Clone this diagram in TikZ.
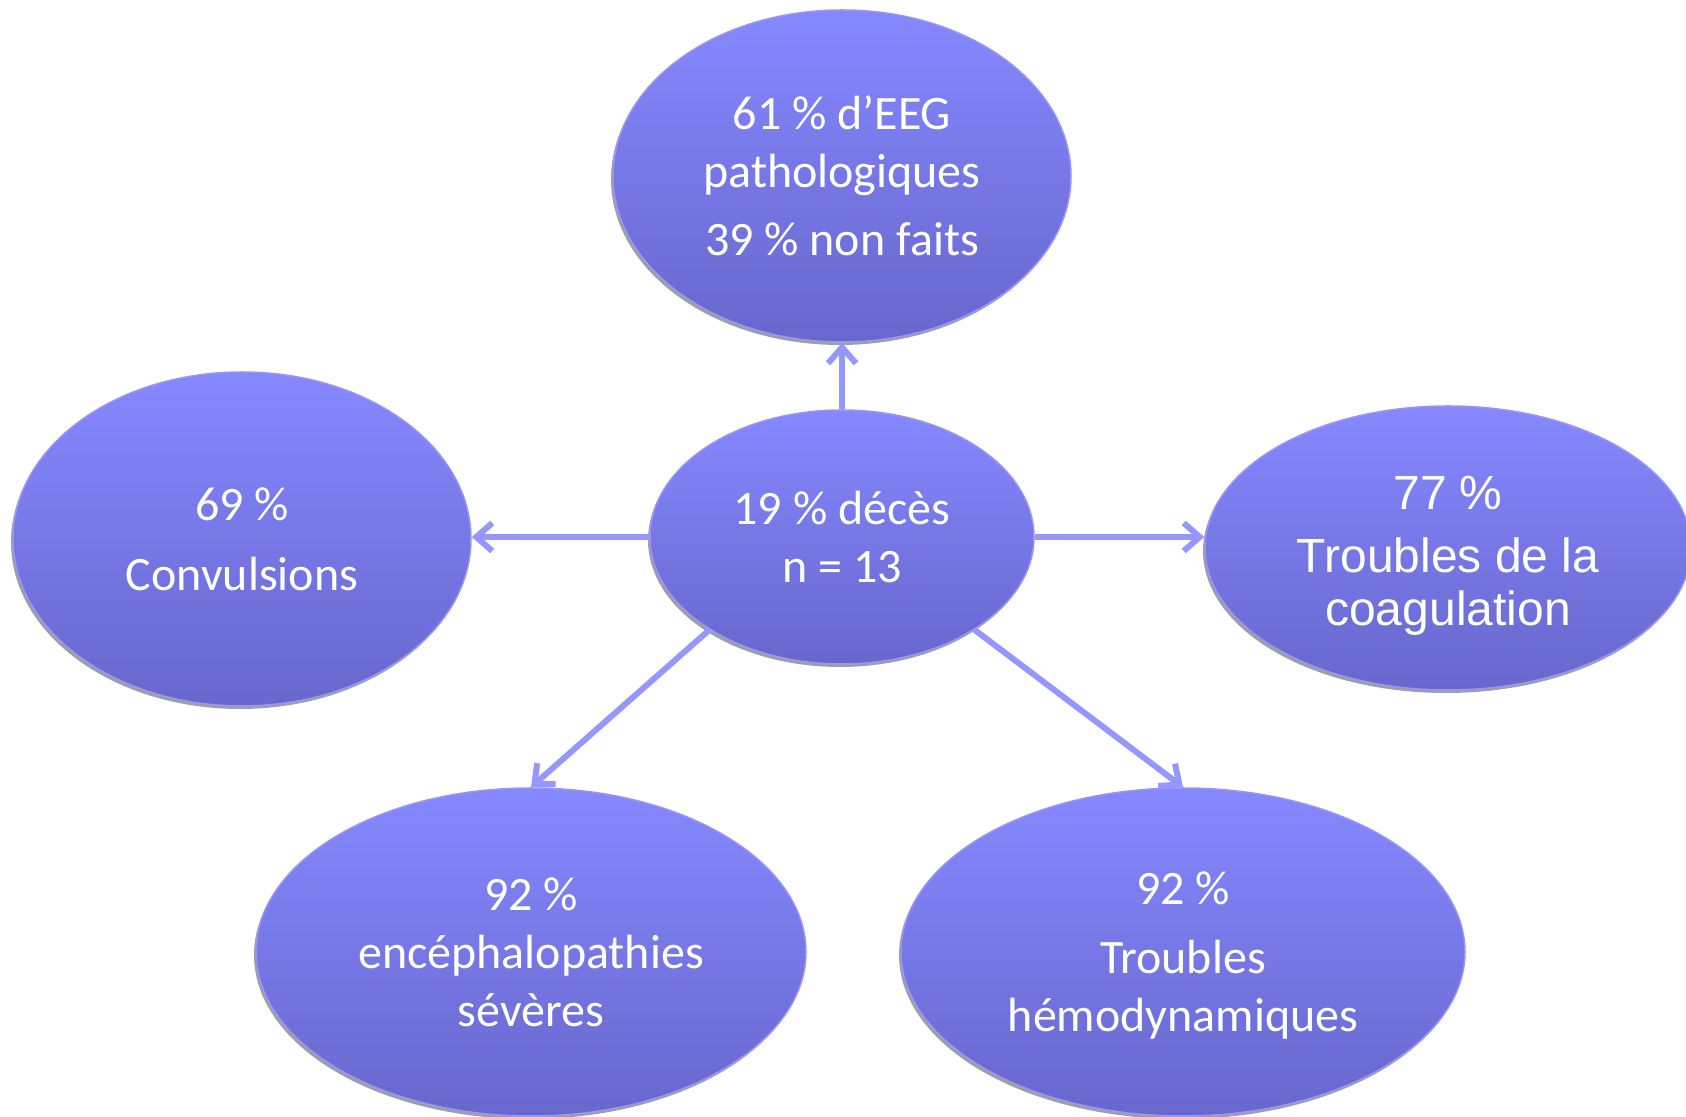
\documentclass[tikz,border=0pt]{standalone}
\usepackage{fontspec}
\setmainfont{Carlito}
\newfontfamily\arialfont{Liberation Sans}
\usetikzlibrary{shapes.geometric,arrows.meta,shadows}

\definecolor{bulleTop}{RGB}{134,136,255}
\definecolor{bulleBot}{RGB}{103,103,204}
\definecolor{bulleBord}{RGB}{150,150,248}
\definecolor{fleche}{RGB}{150,150,255}

\tikzset{
  bulle/.style={ellipse, inner sep=0pt, top color=bulleTop, bottom color=bulleBot,
    draw=bulleBord, line width=1.5pt, text=white, align=center,
    font=\fontsize{48}{58}\selectfont,
    drop shadow={shadow xshift=-2pt, shadow yshift=-3pt, fill=gray!75, opacity=1}},
  lien/.style={draw=fleche, line width=6pt, -{Straight Barb[length=16pt,width=28pt]}}
}

\begin{document}
\begin{tikzpicture}[x=1pt,y=1pt]
\useasboundingbox (0,0) rectangle (1686,1116);
% bulles
\node[bulle, minimum width=458, minimum height=332] (eeg) at (842,940)
  {61 \% d’EEG\\pathologiques\\[10pt]39 \% non faits};
\node[bulle, minimum width=384, minimum height=254] (deces) at (842,579)
  {19 \% décès\\n = 13};
\node[bulle, minimum width=458, minimum height=334] (conv) at (242,577)
  {69 \%\\[12pt]Convulsions};
\node[bulle, minimum width=486, minimum height=284, font=\arialfont\fontsize{48}{53}\selectfont] (coag) at (1448,568)
  {\rule{0pt}{48pt}77 \%\\[10pt]Troubles de la\\coagulation};
\node[bulle, minimum width=550, minimum height=328] (ence) at (531,164)
  {92 \%\\encéphalopathies\\sévères};
\node[bulle, minimum width=564, minimum height=328] (hemo) at (1183,164)
  {\rule{0pt}{39pt}92 \%\\[11pt]Troubles\\hémodynamiques};
% liens
\draw[lien] (deces.north) -- (eeg.south);
\draw[lien] (deces.west) -- (deces.west -| conv.east);
\draw[lien] (deces.east) -- (deces.east -| coag.west);
\draw[lien] (deces.215) -- (ence.north);
\draw[lien] (deces.-35) -- (hemo.north);
\end{tikzpicture}
\end{document}
